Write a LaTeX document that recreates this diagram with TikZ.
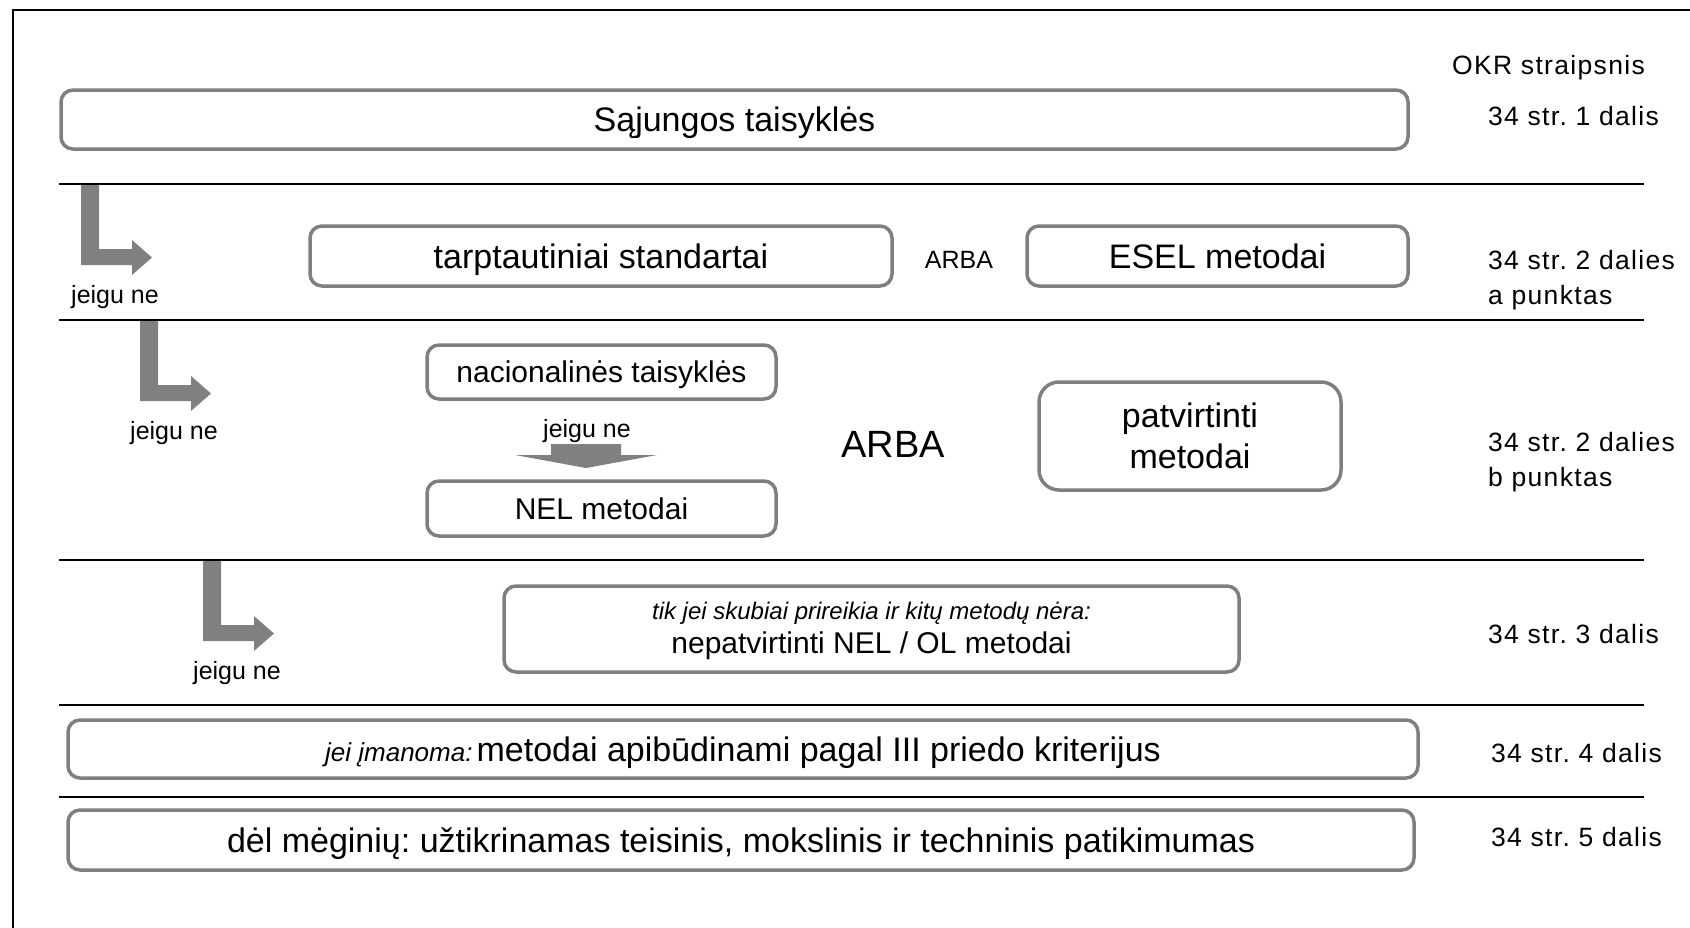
\documentclass[tikz,border=0pt]{standalone}
\usepackage{fontspec}
\setmainfont{Liberation Sans}
\newfontfamily\lblfont[LetterSpace=5]{Liberation Sans}
\newcommand\fsz[2]{\fontsize{#1}{#2}\selectfont}
\frenchspacing
\definecolor{boxgray}{HTML}{7F7F7F}
\definecolor{arrowgray}{HTML}{808080}
\tikzset{
  box/.style={draw=boxgray, line width=3.5pt, rounded corners=12pt, fill=white, inner sep=0pt, align=center},
  big/.style={font=\fsz{34}{40}\frenchspacing, text height=24.5pt, text depth=0pt},
  mid/.style={font=\fsz{30}{36}\frenchspacing, text height=21.5pt, text depth=0pt},
  sepline/.style={line width=1.8pt, black},
  lbl/.style={inner sep=0pt, anchor=base west, font=\lblfont\fsz{26.5}{35}\frenchspacing},
  jn/.style={inner sep=0pt, font=\fsz{25}{30}, text height=18pt, text depth=0pt},
  larrow/.pic={\fill[arrowgray] (0,0) -- (18,0) -- (18,64) -- (51,64) -- (51,55) -- (71,72.5) -- (51,90) -- (51,80) -- (0,80) -- cycle;}
}
\begin{document}
\begin{tikzpicture}[x=1pt,y=-1pt]
\useasboundingbox (0,0) rectangle (1690,927);
\begin{scope}
\clip (0,0) rectangle (1690,927);
\draw[line width=2pt] (13,960) -- (13,10) -- (1720,10);
\end{scope}

% separators
\foreach \yy in {184,320,560,705,797} \draw[sepline] (59,\yy) -- (1644,\yy);

% right labels
\node[lbl] (okr) at (1452,74) {OKR straipsnis};
\node[lbl] (l1) at (1488,125) {34 str. 1 dalis};
\node[lbl] (l2a) at (1488,269) {34 str. 2 dalies};
\node[lbl] (l2b) at (1488,304) {a punktas};
\node[lbl] (l3a) at (1488,451) {34 str. 2 dalies};
\node[lbl] (l3b) at (1488,486) {b punktas};
\node[lbl] (l4) at (1488,643) {34 str. 3 dalis};
\node[lbl] (l5) at (1491,762) {34 str. 4 dalis};
\node[lbl] (l6) at (1491,846) {34 str. 5 dalis};

% boxes
\node[box, big, minimum width=1347pt, minimum height=59pt] (sajungos) at (734.5,119.5) {Sąjungos taisyklės};
\node[box, big, minimum width=582pt, minimum height=60pt] (tarpt) at (601,256) {tarptautiniai standartai};
\node[box, big, minimum width=381pt, minimum height=60pt] (esel) at (1217.5,256) {ESEL metodai};
\node[jn] (arba1) at (959,259) {ARBA};
\node[box, mid, minimum width=349pt, minimum height=54pt] (nacion) at (601.5,372) {nacionalinės taisyklės};
\node[box, mid, minimum width=349pt, minimum height=55pt] (nel) at (601.5,508.5) {NEL metodai};
\node[box, rounded corners=20pt, font=\fsz{34}{41}, text height=65.5pt, text depth=0pt, minimum width=302pt, minimum height=108pt] (patv) at (1190,436) {patvirtinti\\metodai};
\node[inner sep=0pt, font=\fsz{38}{44}, text height=27pt, text depth=0pt] (arba2) at (893,444) {ARBA};
\node[box, font=\fsz{30}{33.5}\frenchspacing, text depth=2pt, minimum width=735pt, minimum height=86pt] (tikjei) at (871.5,629)
  {{\itshape\fsz{24}{28}tik jei skubiai prireikia ir kitų metodų nėra:}\\nepatvirtinti NEL / OL metodai};
\node[box, big, minimum width=1350pt, minimum height=58pt] (jei) at (743,749)
  {{\itshape\fsz{26}{30}jei įmanoma:}\hspace{0.12em}metodai apibūdinami pagal III priedo kriterijus};
\node[box, big, minimum width=1346pt, minimum height=60pt] (del) at (741,840)
  {dėl mėginių: užtikrinamas teisinis, mokslinis ir techninis patikimumas};

% L arrows
\pic at (81,185) {larrow};
\pic at (140,321) {larrow};
\pic at (203,561) {larrow};
\node[jn] (jn1) at (115,294) {jeigu ne};
\node[jn] (jn2) at (174,430) {jeigu ne};
\node[jn] (jn3) at (237,670) {jeigu ne};

% down arrow
\fill[arrowgray] (551,444) -- (621,444) -- (621,455) -- (657,455) -- (586,468) -- (515,455) -- (551,455) -- cycle;
\node[jn] (jn4) at (587,428) {jeigu ne};
\end{tikzpicture}
\end{document}
